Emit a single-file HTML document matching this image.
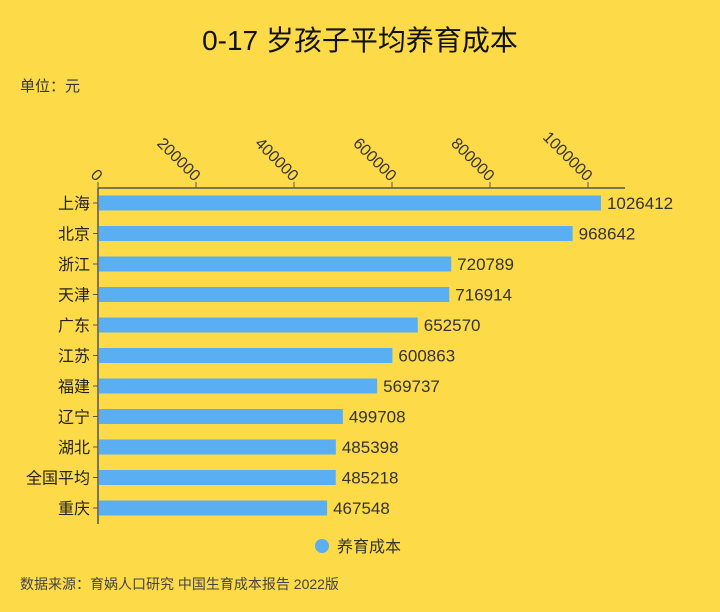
<!DOCTYPE html>
<html><head><meta charset="utf-8"><style>
body{margin:0;background:#FDDB48;}
svg{display:block;font-family:"Liberation Sans","Noto Sans CJK SC",sans-serif;}
</style></head><body>
<svg id="c" width="720" height="612" viewBox="0 0 720 612">
<rect width="720" height="612" fill="#FDDB48"/>
<text x="360" y="50" text-anchor="middle" font-size="28" fill="#111">0-17 岁孩子平均养育成本</text>
<text x="20" y="91" font-size="15" fill="#333">单位：元</text>
<text x="20" y="589" font-size="14" fill="#444">数据来源：育娲人口研究 中国生育成本报告 2022版</text>
<g>
<circle cx="322" cy="546" r="7" fill="#5AAEF2"/>
<text x="337" y="552" font-size="16" fill="#333">养育成本</text>
</g>
<g id="plot"></g>
</svg>
<script>
const categories=["上海","北京","浙江","天津","广东","江苏","福建","辽宁","湖北","全国平均","重庆"];
const values=[1026412,968642,720789,716914,652570,600863,569737,499708,485398,485218,467548];
const ticks=[0,200000,400000,600000,800000,1000000];
const x0=98,xs=0.00049,axisY=188,y0=203,step=30.5,bh=15;
const X=v=>x0+v*xs, Y=i=>y0+i*step;
const ns="http://www.w3.org/2000/svg",g=document.getElementById("plot");
function mk(t,a){const e=document.createElementNS(ns,t);for(const k in a)e.setAttribute(k,a[k]);g.appendChild(e);return e;}
let e=mk("line",{x1:x0,y1:axisY,x2:625,y2:axisY,stroke:"#555","stroke-width":1.5});


e=mk("line",{x1:x0,y1:axisY,x2:x0,y2:524,stroke:"#555","stroke-width":1.5});


ticks.forEach(t=>{
 const x=X(t);
 let l=mk("line",{x1:x,y1:axisY,x2:x,y2:axisY-6,stroke:"#555"});
 
 
 let tx=mk("text",{x:x-2,y:axisY-6,"text-anchor":"end","font-size":16,fill:"#333",transform:`rotate(45 ${x-2} ${axisY-6})`});
 tx.textContent=t;
 
 
});
categories.forEach((c,i)=>{
 const y=Y(i);
 let r=mk("rect",{x:x0+1,y:y-bh/2,width:X(values[i])-x0-1,height:bh,fill:"#5AAEF2"});
 
 
 let tk=mk("line",{x1:x0-5,y1:y,x2:x0,y2:y,stroke:"#555"});
 
 
 let lb=mk("text",{x:x0-8,y:y+6,"text-anchor":"end","font-size":16,fill:"#222"});
 lb.textContent=c;
 
 
 let v=mk("text",{x:X(values[i])+6,y:y+6,"font-size":17,fill:"#333"});
 v.textContent=values[i];
 
 
});
</script>
</body></html>
